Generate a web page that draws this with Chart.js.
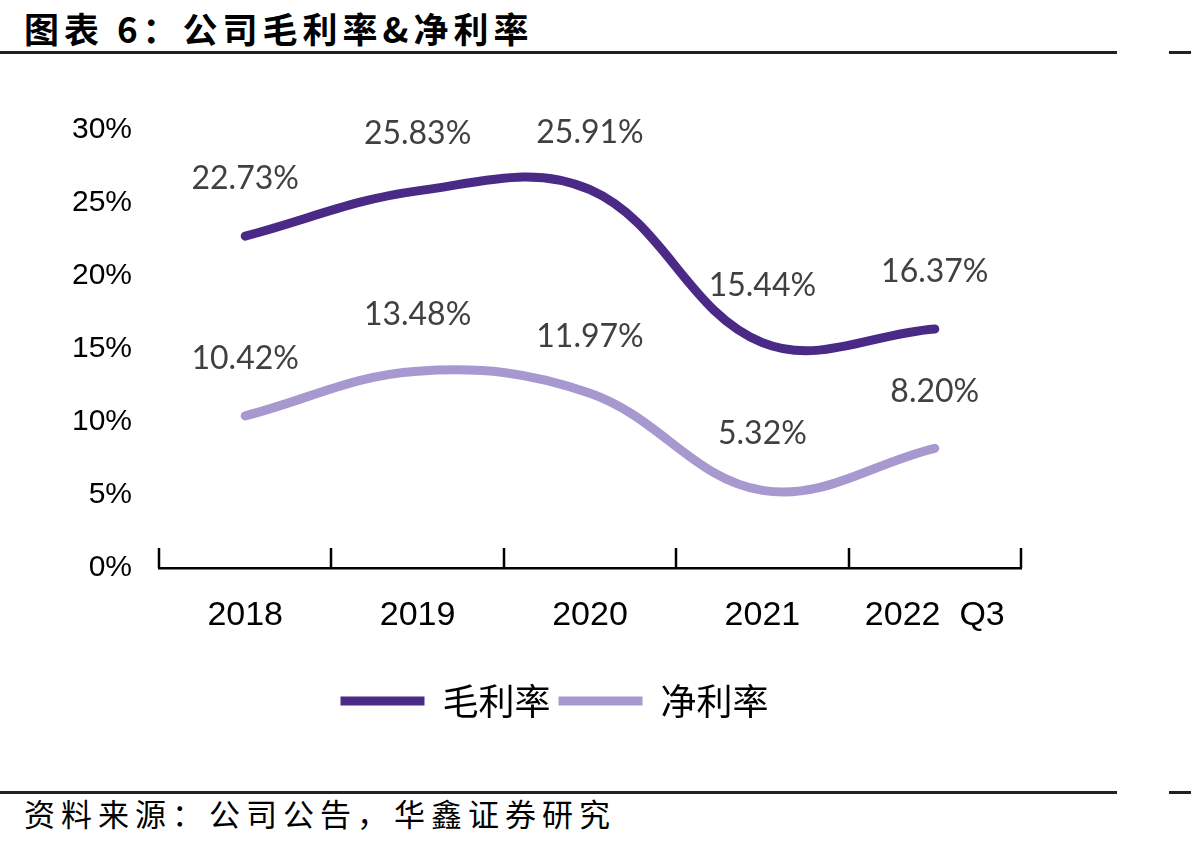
<!DOCTYPE html>
<html lang="zh">
<head>
  <meta charset="UTF-8">
  <title>公司毛利率&净利率</title>
  <script src="https://cdn.jsdelivr.net/npm/chart.js"></script>
  <style>
    body {
      margin: 0;
      width: 1191px;
      height: 846px;
      background: #fff;
      position: relative;
      overflow: hidden;
      font-family: "Noto Sans CJK SC", sans-serif;
    }
    .title {
      position: absolute;
      left: 24px;
      top: 2px;
      font-size: 35px;
      font-weight: bold;
      letter-spacing: 5px;
      color: #000;
    }
    .rule {
      position: absolute;
      height: 3px;
      background: #222;
    }
    .source {
      position: absolute;
      left: 24px;
      top: 790px;
      font-size: 31px;
      letter-spacing: 6px;
      color: #000;
    }
    .chart-box {
      position: absolute;
      left: 0;
      top: 60px;
      width: 1191px;
      height: 700px;
    }
  </style>
</head>
<body>
  <div class="title">图表 6：公司毛利率&amp;净利率</div>
  <div class="rule" style="left:0; top:51px; width:1117px;"></div>
  <div class="rule" style="left:1169px; top:51px; width:22px;"></div>

  <div class="chart-box">
    <canvas id="marginChart"></canvas>
  </div>

  <div class="rule" style="left:0; top:791px; width:1117px;"></div>
  <div class="rule" style="left:1169px; top:791px; width:22px;"></div>
  <div class="source">资料来源：公司公告，华鑫证券研究</div>

  <script>
    // data
    const years = ['2018', '2019', '2020', '2021', '2022  Q3'];
    const grossMargin = [22.73, 25.83, 25.91, 15.44, 16.37];
    const netMargin = [10.42, 13.48, 11.97, 5.32, 8.20];
    const seriesNames = ['毛利率', '净利率'];

    const darkPurple = '#4b2a87';
    const lightPurple = '#a798cf';

    // value labels above each point
    const valueLabels = {
      id: 'valueLabels',
      afterDatasetsDraw(chart) {
        const ctx = chart.ctx;
        ctx.save();
        ctx.font = '32px Lato, "Open Sans", sans-serif';
        ctx.fillStyle = '#404040';
        ctx.textAlign = 'center';
        ctx.textBaseline = 'middle';
        chart.data.datasets.forEach((ds, i) => {
          chart.getDatasetMeta(i).data.forEach((pt, j) => {
            ctx.fillText(ds.data[j].toFixed(2) + '%', pt.x, pt.y - 57);
          });
        });
        ctx.restore();
      }
    };

    // small upward tick marks at the category boundaries
    const boundaryTicks = {
      id: 'boundaryTicks',
      afterDraw(chart) {
        const xs = chart.scales.x;
        const bottom = chart.chartArea.bottom;
        const ctx = chart.ctx;
        ctx.save();
        ctx.strokeStyle = '#000';
        ctx.lineWidth = 2.5;
        for (let i = 0; i <= years.length; i++) {
          const x = Math.round(xs.getPixelForValue(i - 0.5));
          ctx.beginPath();
          ctx.moveTo(x, bottom - 20);
          ctx.lineTo(x, bottom);
          ctx.stroke();
        }
        ctx.restore();
      }
    };

    new Chart(document.getElementById('marginChart'), {
      type: 'line',
      data: {
        labels: years,
        datasets: [
          {
            label: seriesNames[0],
            data: grossMargin,
            borderColor: darkPurple,
            backgroundColor: darkPurple,
            borderWidth: 9,
            borderCapStyle: 'round',
            pointRadius: 0,
            tension: 0.38
          },
          {
            label: seriesNames[1],
            data: netMargin,
            borderColor: lightPurple,
            backgroundColor: lightPurple,
            borderWidth: 9,
            borderCapStyle: 'round',
            pointRadius: 0,
            tension: 0.38
          }
        ]
      },
      options: {
        responsive: true,
        maintainAspectRatio: false,
        animation: false,
        layout: {
          padding: { left: 88, right: 170, top: 70, bottom: 31 }
        },
        plugins: {
          tooltip: { enabled: false },
          legend: {
            position: 'bottom',
            labels: {
              usePointStyle: true,
              pointStyle: 'line',
              pointStyleWidth: 84,
              padding: 8,
              color: '#000',
              font: { family: '"Noto Sans CJK SC"', size: 36 }
            }
          }
        },
        scales: {
          x: {
            offset: true,
            grid: { display: true, drawOnChartArea: false, drawTicks: false, color: 'rgba(0,0,0,0)' },
            border: { display: true, color: '#000', width: 2.5 },
            ticks: {
              color: '#000',
              padding: 27,
              maxRotation: 0,
              font: { family: '"Liberation Sans"', size: 34 }
            },
            afterFit(scale) { scale.height = 107; }
          },
          y: {
            min: 0,
            max: 30,
            grid: { display: false },
            border: { display: false },
            ticks: {
              stepSize: 5,
              color: '#000',
              // mirrored so the labels are not clipped to the narrow axis box,
              // then pulled back to the left of the plot
              mirror: true,
              crossAlign: 'far',
              padding: -87,
              font: { family: '"Liberation Sans"', size: 30 },
              callback: function(value) { return value + '%'; }
            },
            afterFit(scale) { scale.width = 71; }
          }
        }
      },
      plugins: [valueLabels, boundaryTicks]
    });
  </script>
</body>
</html>
